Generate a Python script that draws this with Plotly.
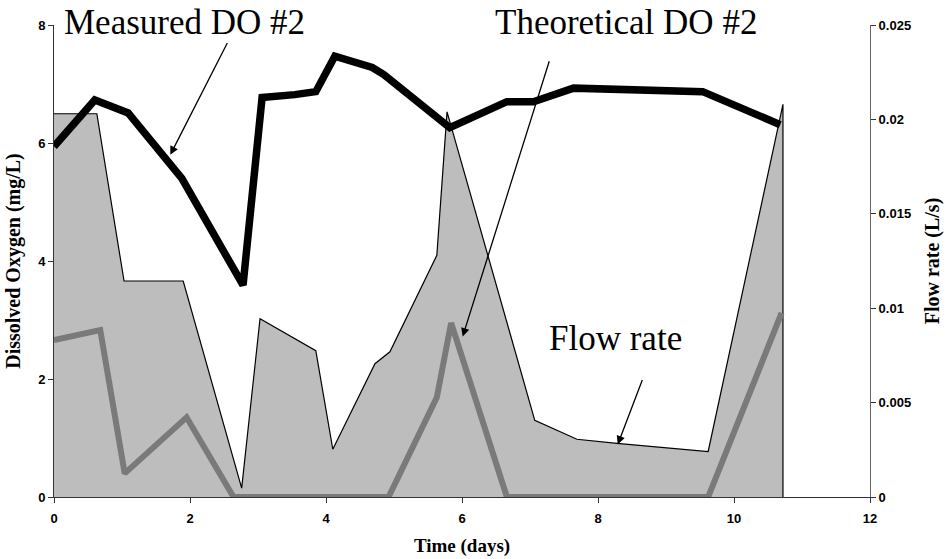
import plotly.graph_objects as go

# Measured DO #2 (mg/L)
meas_t = [0, 0.60, 1.09, 1.88, 2.78, 3.06, 3.54, 3.85, 4.13, 4.68, 4.85, 5.82, 6.66, 7.05, 7.64, 9.54, 10.68]
meas_do = [5.94, 6.73, 6.51, 5.40, 3.59, 6.77, 6.82, 6.87, 7.47, 7.28, 7.16, 6.26, 6.70, 6.70, 6.93, 6.87, 6.31]

# Theoretical DO #2 (mg/L)
theo_t = [0, 0.68, 1.04, 1.95, 2.64, 4.92, 5.63, 5.84, 6.66, 9.62, 10.70]
theo_do = [2.66, 2.83, 0.40, 1.35, 0, 0, 1.69, 2.95, 0, 0, 3.12]

# Flow rate (L/s)
flow_t = [0, 0.63, 1.03, 1.90, 2.76, 3.03, 3.85, 4.10, 4.72, 4.94, 5.63, 5.78, 7.07, 7.69, 8.28, 9.62, 10.72, 10.72]
flow_q = [0.0203, 0.0203, 0.01144, 0.01144, 0.00047, 0.00944, 0.00775, 0.00253, 0.00706, 0.00769,
          0.0128, 0.0204, 0.00406, 0.00306, 0.00284, 0.00241, 0.0208, 0]

x_ticks = [0, 2, 4, 6, 8, 10, 12]
do_ticks = [0, 2, 4, 6, 8]
flow_ticks = [0, 0.005, 0.01, 0.015, 0.02, 0.025]
flow_labels = ["0", "0.005", "0.01", "0.015", "0.02", "0.025"]

fig = go.Figure()

fig.add_trace(go.Scatter(
    x=flow_t, y=flow_q, yaxis="y", mode="lines",
    line=dict(color="black", width=1.2),
    fill="tozeroy", fillcolor="#bdbdbd",
    showlegend=False, hoverinfo="skip"))

fig.add_trace(go.Scatter(
    x=theo_t, y=theo_do, yaxis="y2", mode="lines",
    line=dict(color="#7a7a7a", width=6),
    showlegend=False, cliponaxis=False))

fig.add_trace(go.Scatter(
    x=meas_t, y=meas_do, yaxis="y2", mode="lines",
    line=dict(color="black", width=7.5),
    showlegend=False, cliponaxis=False))

tickfont = dict(family="Liberation Sans, Arial", size=13, color="black")
serif = "Liberation Serif, Times New Roman"

fig.update_layout(
    width=951, height=559,
    margin=dict(l=54, r=81, t=25, b=62),
    paper_bgcolor="white", plot_bgcolor="white",
    xaxis=dict(range=[0, 12], tickvals=x_ticks, ticktext=[f"<b>{v}</b>" for v in x_ticks],
               showgrid=False, zeroline=False, showline=True, linecolor="#333", linewidth=1,
               ticks="outside", ticklen=5, tickcolor="#333", tickfont=tickfont,
               ticklabelstandoff=4, automargin=False,
               title=dict(text="<b>Time (days)</b>", font=dict(family=serif, size=19, color="black"),
                          standoff=14)),
    yaxis=dict(range=[0, 0.025], side="right", tickvals=flow_ticks,
               ticktext=[f"<b>{t}</b>" for t in flow_labels],
               showgrid=False, zeroline=False, showline=True, linecolor="#666", linewidth=1,
               ticks="outside", ticklen=5, tickcolor="#333", tickfont=tickfont, automargin=False,
               title=dict(text="<b>Flow rate (L/s)</b>", font=dict(family=serif, size=20, color="black"),
                          standoff=14)),
    yaxis2=dict(range=[0, 8], side="left", overlaying="y", tickvals=do_ticks,
                ticktext=[f"<b>{v}</b>" for v in do_ticks],
                showgrid=False, zeroline=False, showline=True, linecolor="#333", linewidth=1,
                ticks="outside", ticklen=5, tickcolor="#333", tickfont=tickfont, automargin=False,
                title=dict(text="<b>Dissolved Oxygen (mg/L)</b>",
                           font=dict(family=serif, size=20, color="black"), standoff=12)),
)

labfont = dict(family=serif, size=35, color="black")
# big labels: (text, x, y, xref, yref)
texts = [
    ("Measured DO #2", 0.1605, 1.006, "paper", "paper"),
    ("Theoretical DO #2", 0.701, 1.006, "paper", "paper"),
    ("Flow rate", 8.26, 2.69, "x", "y2"),
]
for text, tx, ty, xr, yr in texts:
    fig.add_annotation(x=tx, y=ty, xref=xr, yref=yr, text=text, showarrow=False,
                       font=labfont, xanchor="center", yanchor="middle")

# arrows: (head x, head y, tail x, tail y) in data units
arrows = [
    (1.71, 5.80, 2.56, 7.72),
    (6.01, 2.72, 7.29, 7.41),
    (8.29, 0.89, 8.66, 2.01),
]
for hx, hy, sx, sy in arrows:
    fig.add_annotation(x=hx, y=hy, xref="x", yref="y2", ax=sx, ay=sy, axref="x", ayref="y2",
                       text="", showarrow=True, arrowhead=2, arrowsize=1.3, arrowwidth=1.3,
                       arrowcolor="black")

fig.write_html("out.html")
